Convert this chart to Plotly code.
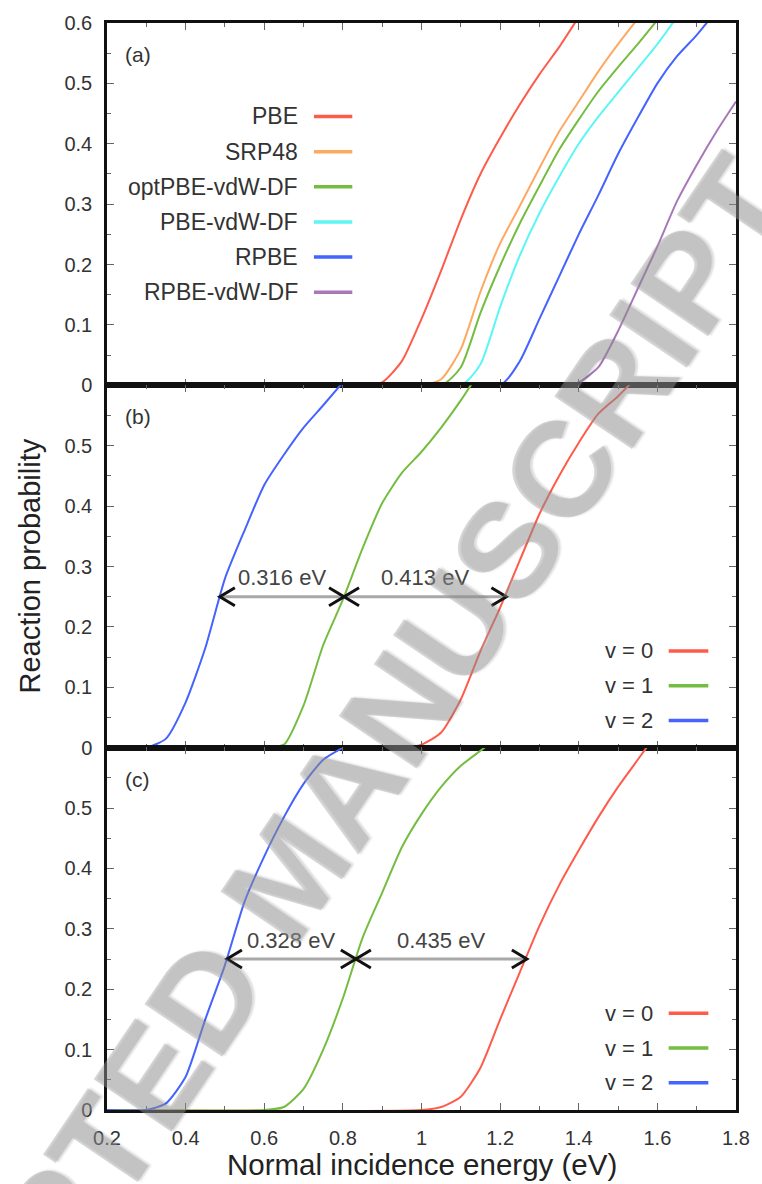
import plotly.graph_objects as go
from plotly.subplots import make_subplots

# ---------------- data ----------------
# panel (a): functionals, v=0
pbe_E = [0.2, 0.85, 0.9, 0.95, 1.0, 1.05, 1.1, 1.15, 1.2, 1.25, 1.3, 1.35, 1.4]
pbe_P = [0, 0, 0.005, 0.04, 0.11, 0.19, 0.275, 0.35, 0.41, 0.465, 0.515, 0.56, 0.61]
srp_E = [0.2, 1.0, 1.05, 1.1, 1.15, 1.2, 1.25, 1.3, 1.35, 1.4, 1.45, 1.5, 1.55]
srp_P = [0, 0, 0.01, 0.06, 0.155, 0.235, 0.297, 0.36, 0.42, 0.47, 0.52, 0.565, 0.607]
opt_E = [0.2, 1.05, 1.1, 1.15, 1.2, 1.25, 1.3, 1.35, 1.4, 1.45, 1.5, 1.55, 1.6]
opt_P = [0, 0, 0.03, 0.12, 0.198, 0.268, 0.33, 0.39, 0.44, 0.487, 0.527, 0.565, 0.605]
pvdw_E = [0.2, 1.1, 1.15, 1.2, 1.25, 1.3, 1.35, 1.4, 1.45, 1.5, 1.55, 1.6, 1.65]
pvdw_P = [0, 0, 0.035, 0.13, 0.215, 0.285, 0.345, 0.4, 0.445, 0.485, 0.525, 0.565, 0.61]
rpbe_E = [0.2, 1.2, 1.25, 1.3, 1.35, 1.4, 1.45, 1.5, 1.55, 1.6, 1.65, 1.7, 1.75]
rpbe_P = [0, 0, 0.04, 0.11, 0.18, 0.25, 0.315, 0.383, 0.443, 0.5, 0.545, 0.58, 0.62]
rvdw_E = [0.2, 1.35, 1.4, 1.45, 1.5, 1.55, 1.6, 1.65, 1.7, 1.75, 1.8]
rvdw_P = [0, 0, 0.005, 0.03, 0.09, 0.16, 0.23, 0.305, 0.365, 0.42, 0.47]

# panel (b): vibrational states
b_v0_E = [0.2, 0.95, 1.0, 1.05, 1.1, 1.15, 1.2, 1.25, 1.3, 1.35, 1.4, 1.45, 1.5, 1.55]
b_v0_P = [0, 0, 0.005, 0.025, 0.08, 0.16, 0.232, 0.31, 0.387, 0.45, 0.505, 0.553, 0.582, 0.615]
b_v1_E = [0.2, 0.6, 0.65, 0.7, 0.75, 0.8, 0.85, 0.9, 0.95, 1.0, 1.05, 1.1, 1.15]
b_v1_P = [0, 0, 0.005, 0.07, 0.17, 0.245, 0.33, 0.405, 0.455, 0.49, 0.53, 0.575, 0.625]
b_v2_E = [0.2, 0.3, 0.35, 0.4, 0.45, 0.5, 0.55, 0.6, 0.65, 0.7, 0.75, 0.8]
b_v2_P = [0, 0, 0.015, 0.075, 0.165, 0.28, 0.36, 0.435, 0.485, 0.53, 0.567, 0.605]

# panel (c): vibrational states
c_v0_E = [0.2, 1.0, 1.05, 1.1, 1.15, 1.2, 1.25, 1.3, 1.35, 1.4, 1.45, 1.5, 1.55, 1.6]
c_v0_P = [0, 0, 0.005, 0.022, 0.07, 0.15, 0.228, 0.305, 0.372, 0.43, 0.485, 0.535, 0.58, 0.625]
c_v1_E = [0.2, 0.6, 0.65, 0.7, 0.75, 0.8, 0.85, 0.9, 0.95, 1.0, 1.05, 1.1, 1.15, 1.2]
c_v1_P = [0, 0, 0.005, 0.035, 0.1, 0.185, 0.285, 0.36, 0.435, 0.49, 0.535, 0.57, 0.595, 0.62]
c_v2_E = [0.2, 0.3, 0.35, 0.4, 0.45, 0.5, 0.55, 0.6, 0.65, 0.7, 0.75, 0.8]
c_v2_P = [0, 0, 0.011, 0.055, 0.15, 0.24, 0.345, 0.42, 0.485, 0.54, 0.58, 0.6]

# energy-difference arrows at P = 0.25
arrow_P = 0.25
b_arrow_E = [0.487, 0.803, 1.216]
b_arrow_labels = ["0.316 eV", "0.413 eV"]
c_arrow_E = [0.505, 0.833, 1.268]
c_arrow_labels = ["0.328 eV", "0.435 eV"]

a_names = ["PBE", "SRP48", "optPBE-vdW-DF", "PBE-vdW-DF", "RPBE", "RPBE-vdW-DF"]
v_names = ["v = 0", "v = 1", "v = 2"]
y_ticks = [0, 0.1, 0.2, 0.3, 0.4, 0.5, 0.6]
y_ticktext_top = ["0", "0.1", "0.2", "0.3", "0.4", "0.5", "0.6"]
y_ticktext_low = ["0", "0.1", "0.2", "0.3", "0.4", "0.5", ""]
x_ticks = [0.2, 0.4, 0.6, 0.8, 1.0, 1.2, 1.4, 1.6, 1.8]
x_ticktext = ["0.2", "0.4", "0.6", "0.8", "1", "1.2", "1.4", "1.6", "1.8"]

# ---------------- style ----------------
RED = "#ff5b4b"
ORANGE = "#ffa862"
GREEN = "#74bd40"
CYAN = "#5ef5f5"
BLUE = "#4563ff"
PURPLE = "#a877b8"
FONT = "Liberation Sans"
TXT = "#333333"

a_colors = [RED, ORANGE, GREEN, CYAN, BLUE, PURPLE]
v_colors = [RED, GREEN, BLUE]

fig = make_subplots(rows=3, cols=1, shared_xaxes=True, vertical_spacing=0)

a_series = [(pbe_E, pbe_P), (srp_E, srp_P), (opt_E, opt_P),
            (pvdw_E, pvdw_P), (rpbe_E, rpbe_P), (rvdw_E, rvdw_P)]
for (E, P), col, nm in zip(a_series, a_colors, a_names):
    fig.add_trace(go.Scatter(x=E, y=P, mode="lines", name=nm,
                             line=dict(color=col, width=2, shape="spline", smoothing=0.6),
                             showlegend=False),
                  row=1, col=1)

b_series = [(b_v0_E, b_v0_P), (b_v1_E, b_v1_P), (b_v2_E, b_v2_P)]
c_series = [(c_v0_E, c_v0_P), (c_v1_E, c_v1_P), (c_v2_E, c_v2_P)]
for row, series in ((2, b_series), (3, c_series)):
    for (E, P), col, nm in zip(series, v_colors, v_names):
        fig.add_trace(go.Scatter(x=E, y=P, mode="lines", name=nm,
                                 line=dict(color=col, width=2, shape="spline", smoothing=0.6),
                                 showlegend=False),
                      row=row, col=1)

shapes = []
annotations = []

# arrows
for yref, arrE, labels in (("y2", b_arrow_E, b_arrow_labels), ("y3", c_arrow_E, c_arrow_labels)):
    for i in range(2):
        x0, x1 = arrE[i], arrE[i + 1]
        shapes.append(dict(type="line", xref="x", yref=yref, x0=x0, x1=x1,
                           y0=arrow_P, y1=arrow_P, line=dict(color="#a8a8a8", width=3),
                           layer="above"))
        shapes.append(dict(type="path", xref="x", yref=yref, xsizemode="pixel",
                           ysizemode="pixel", xanchor=x0, yanchor=arrow_P,
                           path="M 15,9 L 0,0 L 15,-9",
                           line=dict(color="#111111", width=3), layer="above"))
        shapes.append(dict(type="path", xref="x", yref=yref, xsizemode="pixel",
                           ysizemode="pixel", xanchor=x1, yanchor=arrow_P,
                           path="M -15,9 L 0,0 L -15,-9",
                           line=dict(color="#111111", width=3), layer="above"))
        annotations.append(dict(xref="x", yref=yref, x=(x0 + x1) / 2, y=arrow_P,
                                yshift=19, text=labels[i], showarrow=False,
                                font=dict(family=FONT, size=22, color="#444444")))

# panel labels
for yref, lab in (("y domain", "(a)"), ("y2 domain", "(b)"), ("y3 domain", "(c)")):
    annotations.append(dict(xref="x domain", yref=yref, x=0.026, y=0.913,
                            xanchor="left", yanchor="middle", text=lab,
                            showarrow=False, font=dict(family=FONT, size=21, color=TXT)))

# legends (text to the left of a line sample, as in gnuplot)
a_leg_y = [0.742, 0.645, 0.548, 0.451, 0.354, 0.257]
for yy, nm, col in zip(a_leg_y, a_names, a_colors):
    annotations.append(dict(xref="x domain", yref="y domain", x=0.307, y=yy,
                            xanchor="right", yanchor="middle", text=nm, showarrow=False,
                            font=dict(family=FONT, size=23, color=TXT)))
    shapes.append(dict(type="line", xref="x domain", yref="y domain",
                       x0=0.329, x1=0.390, y0=yy, y1=yy, line=dict(color=col, width=3.5)))
v_leg_y = [0.267, 0.171, 0.075]
for yd in ("y2 domain", "y3 domain"):
    for yy, nm, col in zip(v_leg_y, v_names, v_colors):
        annotations.append(dict(xref="x domain", yref=yd, x=0.871, y=yy,
                                xanchor="right", yanchor="middle", text=nm, showarrow=False,
                                font=dict(family=FONT, size=22, color=TXT)))
        shapes.append(dict(type="line", xref="x domain", yref=yd,
                           x0=0.893, x1=0.956, y0=yy, y1=yy, line=dict(color=col, width=3.5)))

# axis titles
annotations.append(dict(xref="paper", yref="paper", x=-0.124, y=0.5, textangle=-90,
                        text="Reaction probability", showarrow=False,
                        xanchor="center", yanchor="middle",
                        font=dict(family=FONT, size=29, color="#222222")))
annotations.append(dict(xref="paper", yref="paper", x=0.5, y=-0.050,
                        text="Normal incidence energy (eV)", showarrow=False,
                        xanchor="center", yanchor="middle",
                        font=dict(family=FONT, size=29.5, color="#222222")))

# watermark
annotations.append(dict(xref="paper", yref="paper", x=0.287, y=0.2166, textangle=-56,
                        text="ACCEPTED MANUSCRIPT", showarrow=False,
                        xanchor="center", yanchor="middle",
                        font=dict(family=FONT, size=136, color="rgba(160,160,160,0.42)",
                                  weight="bold",
                                  shadow="2px 2px 2px rgba(70,70,70,0.45)")))

fig.update_xaxes(range=[0.2, 1.8], tickvals=x_ticks, ticktext=x_ticktext,
                 showline=True, linecolor="#111111", linewidth=2.5, mirror="ticks",
                 ticks="inside", ticklen=7, tickcolor="#666666", tickwidth=1,
                 minor=dict(dtick=0.1, tick0=0.2, ticks="inside", ticklen=4,
                            tickcolor="#666666", tickwidth=1),
                 showgrid=False, zeroline=False,
                 tickfont=dict(family=FONT, size=20, color=TXT))
fig.update_xaxes(showticklabels=False, row=1, col=1)
fig.update_xaxes(showticklabels=False, row=2, col=1)
fig.update_xaxes(showticklabels=True, ticklabelstandoff=8, row=3, col=1)

for r in (1, 2, 3):
    fig.update_yaxes(range=[0, 0.6], tickvals=y_ticks,
                     ticktext=y_ticktext_top if r == 1 else y_ticktext_low,
                     showline=True, linecolor="#111111", linewidth=2.5, mirror="ticks",
                     ticks="inside", ticklen=7, tickcolor="#666666", tickwidth=1,
                     minor=dict(dtick=0.05, tick0=0, ticks="inside", ticklen=4,
                                tickcolor="#666666", tickwidth=1),
                     showgrid=False, zeroline=False, ticklabelstandoff=8,
                     tickfont=dict(family=FONT, size=20, color=TXT),
                     row=r, col=1)

fig.update_layout(width=762, height=1184,
                  margin=dict(l=107, r=17, t=16, b=74),
                  paper_bgcolor="white", plot_bgcolor="white",
                  shapes=shapes, annotations=annotations, showlegend=False)

fig.write_html("out.html")
